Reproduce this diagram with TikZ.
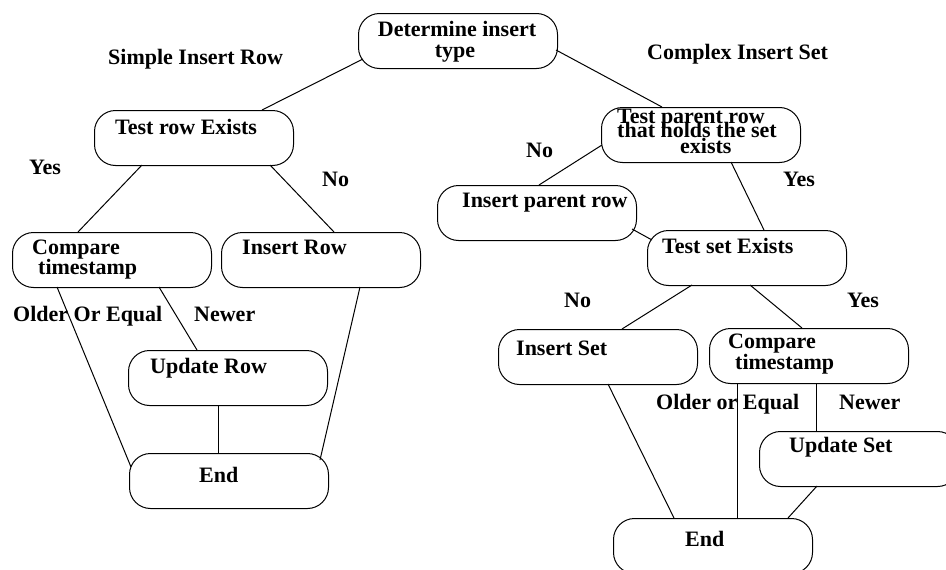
\documentclass[tikz,border=0pt]{standalone}
\usepackage{fontspec}
\setmainfont{Liberation Serif}
\usetikzlibrary{calc}
\tikzset{
  box/.style={draw, line width=1pt, rounded corners=21pt, minimum width=199pt, minimum height=55pt, inner sep=0pt, anchor=north west},
  txt/.style={inner sep=0pt, anchor=base west, font=\fontsize{22}{26}\selectfont\bfseries},
  ctxt/.style={inner sep=0pt, anchor=base, font=\fontsize{22}{26}\selectfont\bfseries},
  conn/.style={line width=1pt}
}
\begin{document}
\begin{tikzpicture}[x=1pt,y=-1pt]
\useasboundingbox (0,0) rectangle (946,570);
% boxes
\node[box] (det) at (358,13) {};
\node[box] (trow) at (94,110) {};
\node[box] (cmpL) at (12,232) {};
\node[box] (insRow) at (221,232) {};
\node[box] (tpar) at (601,107) {};
\node[box] (inspar) at (437,185) {};
\node[box] (tset) at (647,230) {};
\node[box] (insSet) at (498,329) {};
\node[box] (cmpR) at (709,328) {};
\node[box] (updSet) at (759,431) {};
\node[box] (endR) at (613,518) {};
\node[box] (updRow) at (128,350) {};
\node[box] (endL) at (129,453) {};
% box texts
\node[ctxt] (det-a) at (457,36) {Determine insert};
\node[ctxt] (det-b) at (455,57) {type};
\node[txt] (trow-t) at (115,134) {Test row Exists};
\node[txt] (cmpL-a) at (32,254) {Compare};
\node[txt] (cmpL-b) at (38,274) {timestamp};
\node[txt] (insRow-t) at (242,254) {Insert Row};
\node[txt] (tpar-a) at (617,123) {Test parent row};
\node[txt] (tpar-b) at (617,137) {that holds the set};
\node[txt] (tpar-c) at (680,153) {exists};
\node[txt] (inspar-t) at (462,207) {Insert parent row};
\node[txt] (tset-t) at (662,253) {Test set Exists};
\node[txt] (insSet-t) at (516,355) {Insert Set};
\node[txt] (cmpR-a) at (728,348) {Compare};
\node[txt] (cmpR-b) at (735,369) {timestamp};
\node[txt] (updSet-t) at (789,452) {Update Set};
\node[txt] (endR-t) at (685,546) {End};
\node[txt] (updRow-t) at (150,373) {Update Row};
\node[txt] (endL-t) at (199,482) {End};
% free labels
\node[txt] (simple) at (108,64) {Simple Insert Row};
\node[txt] (complex) at (647,59) {Complex Insert Set};
\node[txt] (yes1) at (29,174) {Yes};
\node[txt] (no1) at (322,186) {No};
\node[txt] (no2) at (526,157) {No};
\node[txt] (yes2) at (783,186) {Yes};
\node[txt] (older1) at (13,321) {Older Or Equal};
\node[txt] (newer1) at (194,321) {Newer};
\node[txt] (no3) at (564,307) {No};
\node[txt] (yes3) at (847,307) {Yes};
\node[txt] (older2) at (656,409) {Older or Equal};
\node[txt] (newer2) at (839,409) {Newer};
% connectors
\draw[conn] ($(det.north west)+(5,46)$) -- ($(trow.north west)+(168,0)$);
\draw[conn] ($(det.north west)+(198,37)$) -- ($(tpar.north west)+(61,0)$);
\draw[conn] ($(trow.north west)+(48,55)$) -- ($(cmpL.north west)+(66,0)$);
\draw[conn] ($(trow.north west)+(176,55)$) -- ($(insRow.north west)+(113,0)$);
\draw[conn] ($(tpar.north west)+(1,38)$) -- ($(inspar.north west)+(102,0)$);
\draw[conn] ($(tpar.north west)+(130,55)$) -- ($(tset.north west)+(117,0)$);
\draw[conn] ($(inspar.north west)+(195,44)$) -- ($(tset.north west)+(5,10)$);
\draw[conn] ($(cmpL.north west)+(45,55)$) -- ($(endL.north west)+(2,14)$);
\draw[conn] ($(cmpL.north west)+(147,55)$) -- ($(updRow.north west)+(69,0)$);
\draw[conn] ($(insRow.north west)+(139,55)$) -- ($(endL.north west)+(191,7)$);
\draw[conn] ($(updRow.north west)+(90,55)$) -- ($(endL.north west)+(89,0)$);
\draw[conn] ($(tset.north west)+(45,55)$) -- ($(insSet.north west)+(124,0)$);
\draw[conn] ($(tset.north west)+(103,55)$) -- ($(cmpR.north west)+(93,0)$);
\draw[conn] ($(insSet.north west)+(110,55)$) -- ($(endR.north west)+(61,0)$);
\draw[conn] ($(cmpR.north west)+(28,55)$) -- ($(endR.north west)+(124,0)$);
\draw[conn] ($(cmpR.north west)+(107,55)$) -- ($(updSet.north west)+(57,0)$);
\draw[conn] ($(updSet.north west)+(58,55)$) -- ($(endR.north west)+(175,0)$);
\end{tikzpicture}
\end{document}
